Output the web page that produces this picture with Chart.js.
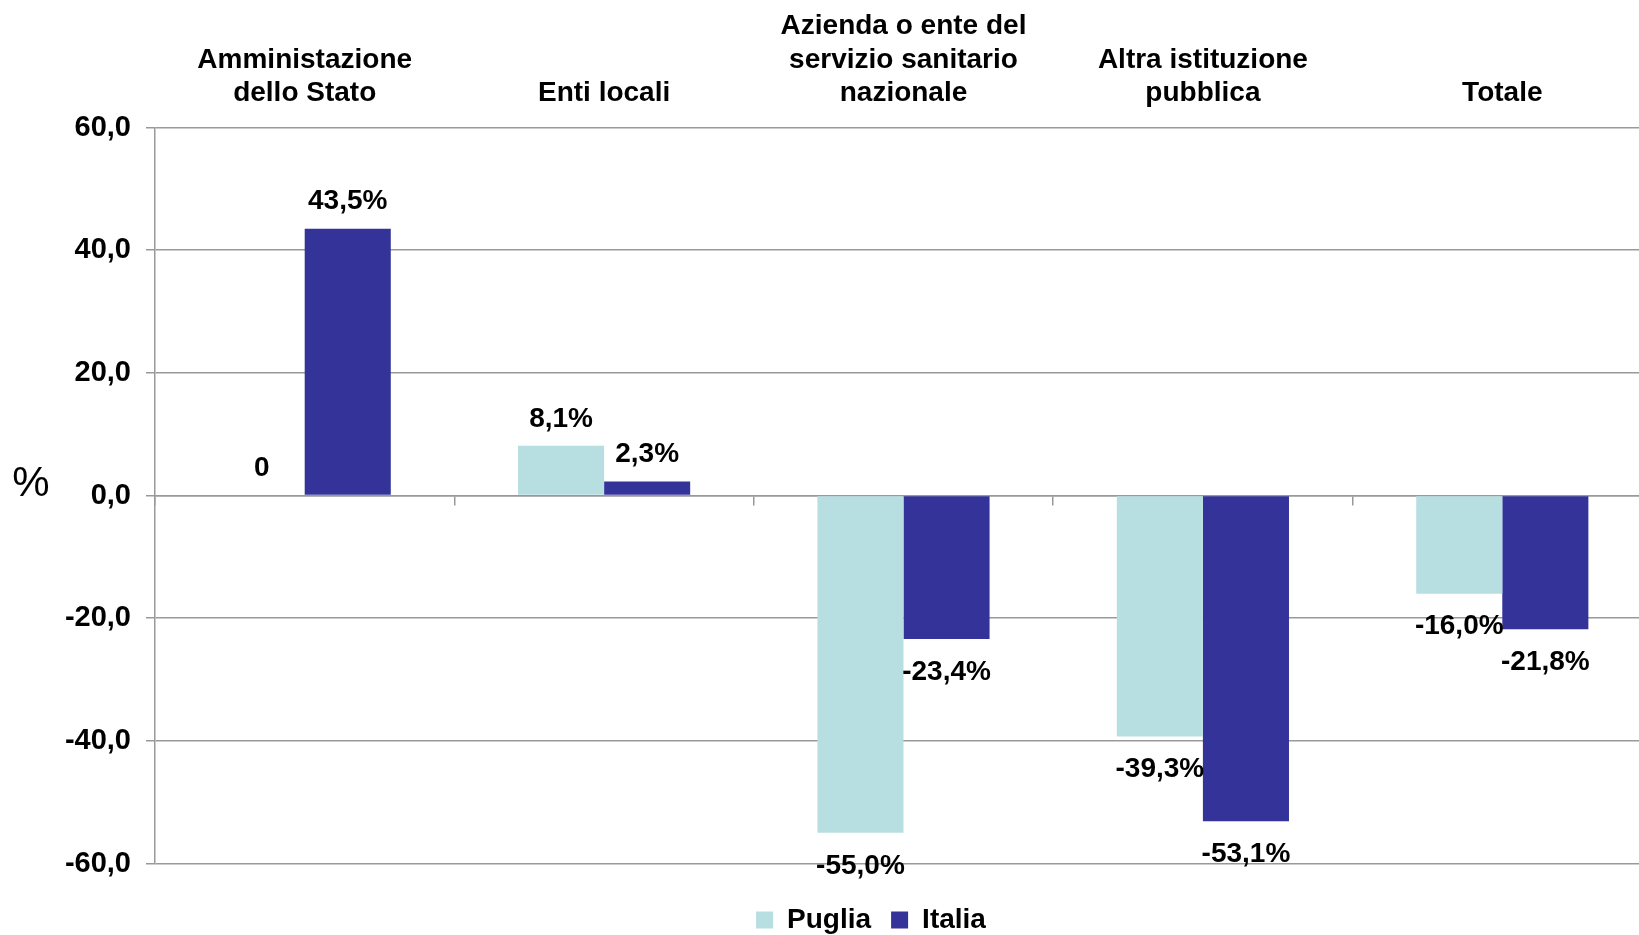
<!DOCTYPE html>
<html>
<head>
<meta charset="utf-8">
<script src="https://cdn.jsdelivr.net/npm/chart.js@4.4.1/dist/chart.umd.min.js"></script>
<style>
  body { margin: 0; background: #fff; overflow: hidden; }
  #wrap { width: 1639px; height: 935px; overflow: hidden; }
  /* plot runs a little past the right edge, like the original */
  #inner { width: 1652px; height: 935px; position: relative; }
</style>
</head>
<body>
<div id="wrap"><div id="inner"><canvas id="ctx"></canvas></div></div>
<script>
// categories shown above the plot, one array of lines per group
const categories = [
    ['Amministazione', 'dello Stato'],
    ['Enti locali'],
    ['Azienda o ente del', 'servizio sanitario', 'nazionale'],
    ['Altra istituzione', 'pubblica'],
    ['Totale']
]
const series_names = ['Puglia', 'Italia']
const puglia_values = [0, 8.1, -55.0, -39.3, -16.0]
const italia_values = [43.5, 2.3, -23.4, -53.1, -21.8]
const y_min = -60
const y_max = 60
const y_step = 20
const y_title = '%'

const FONT = "'Liberation Sans', Arial, sans-serif"
Chart.defaults.font.family = FONT
Chart.defaults.color = '#000'

const fmtTick = (v) => v.toFixed(1).replace('.', ',')
const fmtLabel = (v) => v === 0 ? '0' : v.toFixed(1).replace('.', ',') + '%'

// value labels above / below each bar
const barLabels = {
    id: 'barLabels',
    afterDatasetsDraw(chart) {
        const ctx = chart.ctx
        ctx.save()
        ctx.font = 'bold 28px ' + FONT
        ctx.fillStyle = '#000'
        ctx.textAlign = 'center'
        ctx.textBaseline = 'middle'
        chart.data.datasets.forEach((ds, di) => {
            const meta = chart.getDatasetMeta(di)
            meta.data.forEach((bar, i) => {
                const v = ds.data[i]
                const y = v >= 0 ? bar.y - 27 : bar.y + 33
                ctx.fillText(fmtLabel(v), bar.x, y)
            })
        })
        ctx.restore()
    }
}

// unrotated "%" title left of the y axis
const yTitle = {
    id: 'yTitle',
    afterDraw(chart) {
        const ctx = chart.ctx
        ctx.save()
        ctx.font = '42px ' + FONT
        ctx.fillStyle = '#000'
        ctx.textAlign = 'center'
        ctx.textBaseline = 'alphabetic'
        ctx.fillText(y_title, 31, chart.scales.y.getPixelForValue(0))
        ctx.restore()
    }
}

// legend sits a bit right of the canvas centre in the original
const legendShift = {
    id: 'legendShift',
    afterLayout(chart) {
        chart.legend.left += 45
        chart.legend.right += 45
    }
}

const gridColor = '#999'

const config = {
    type: 'bar',
    data: {
        labels: categories,
        datasets: [
            {
                label: series_names[0],
                data: puglia_values,
                backgroundColor: '#B7DFE2',
                borderWidth: 0,
                xAxisID: 'x'
            },
            {
                label: series_names[1],
                data: italia_values,
                backgroundColor: '#333399',
                borderWidth: 0,
                xAxisID: 'x'
            }
        ]
    },
    options: {
        responsive: true,
        maintainAspectRatio: false,
        animation: false,
        layout: {
            padding: { left: 0, right: 0, top: 7, bottom: -9 }
        },
        datasets: {
            bar: { categoryPercentage: 0.575, barPercentage: 1 }
        },
        scales: {
            x: {
                type: 'category',
                position: 'top',
                offset: true,
                grid: { display: false, drawTicks: false },
                border: { display: false },
                ticks: {
                    padding: 17,
                    maxRotation: 0,
                    autoSkip: false,
                    font: { size: 28, weight: 'bold', lineHeight: 1.2 }
                },
                afterFit: (s) => { s.height = 120.5; s.paddingLeft = 0; s.paddingRight = 0 }
            },
            x0: {
                type: 'category',
                labels: categories,
                position: { y: 0 },
                offset: true,
                grid: {
                    offset: true,
                    drawOnChartArea: false,
                    drawTicks: true,
                    tickLength: 9,
                    color: gridColor,
                    lineWidth: 1.5
                },
                border: { color: gridColor, width: 1.5 },
                ticks: { display: false }
            },
            y: {
                min: y_min,
                max: y_max,
                ticks: {
                    stepSize: y_step,
                    padding: 15,
                    callback: (v) => fmtTick(v),
                    font: { size: 29, weight: 'bold' }
                },
                grid: {
                    color: gridColor,
                    lineWidth: 1.5,
                    tickLength: 9
                },
                border: { color: gridColor, width: 1.5 },
                afterFit: (s) => { s.width = 155 }
            }
        },
        plugins: {
            legend: {
                position: 'bottom',
                title: {
                    display: true,
                    text: '',
                    font: { size: 1, lineHeight: 1 },
                    padding: { top: 21.5, bottom: 0 }
                },
                labels: {
                    boxWidth: 17,
                    boxHeight: 17,
                    padding: 20,
                    color: '#000',
                    font: { size: 28, weight: 'bold' }
                }
            },
            tooltip: { enabled: false }
        }
    },
    plugins: [barLabels, yTitle, legendShift]
}

const myChart = new Chart(document.getElementById('ctx').getContext('2d'), config)
</script>
</body>
</html>
